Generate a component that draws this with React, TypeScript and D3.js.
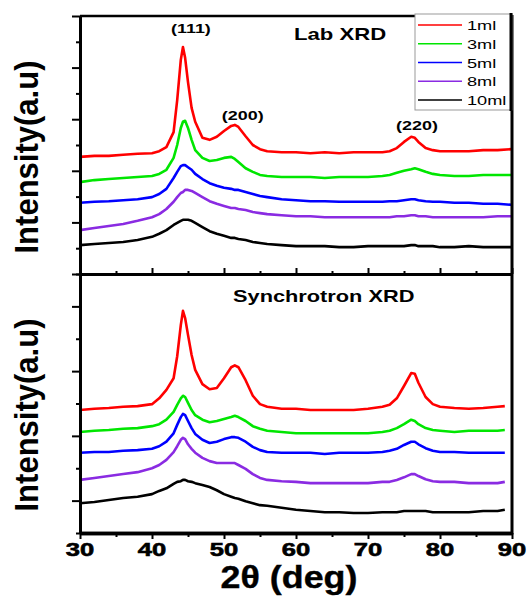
import React, { useEffect, useRef } from "react";
import * as d3 from "d3";

// 2theta sampling (deg)
const twoThetaLab = [30, 32, 34, 36, 38, 40, 41, 42, 43, 43.5, 44, 44.3, 44.6, 45, 45.5, 46, 47, 48, 49, 50, 51, 51.5, 52, 53, 54, 55, 56, 58, 60, 62, 64, 66, 68, 70, 72, 73, 74, 75, 76, 76.5, 77, 78, 79, 80, 82, 84, 86, 88, 90];
const twoThetaSyn = [30, 32, 34, 36, 38, 40, 41, 42, 43, 43.5, 44, 44.3, 44.6, 45, 45.5, 46, 47, 48, 49, 50, 51, 51.5, 52, 53, 54, 55, 56, 58, 60, 62, 64, 66, 68, 70, 72, 73, 74, 75, 76, 76.5, 77, 78, 79, 80, 82, 84, 86, 88, 89];

const samples = ["1ml", "3ml", "5ml", "8ml", "10ml"];
const sampleColors = ["#ff0000", "#00e600", "#0000ff", "#8a2be2", "#000000"];

// Lab XRD (offset intensities, a.u.)
const lab1ml = [2.27, 2.29, 2.29, 2.31, 2.33, 2.34, 2.38, 2.46, 2.75, 3.37, 4.15, 4.40, 4.19, 3.72, 3.22, 2.95, 2.64, 2.60, 2.66, 2.77, 2.87, 2.89, 2.85, 2.67, 2.50, 2.42, 2.38, 2.36, 2.36, 2.34, 2.36, 2.34, 2.36, 2.36, 2.36, 2.38, 2.44, 2.56, 2.66, 2.64, 2.56, 2.44, 2.40, 2.38, 2.38, 2.38, 2.40, 2.40, 2.42];
const lab3ml = [1.78, 1.82, 1.84, 1.86, 1.88, 1.90, 1.94, 2.02, 2.25, 2.50, 2.83, 2.95, 2.97, 2.83, 2.60, 2.40, 2.25, 2.19, 2.21, 2.25, 2.27, 2.23, 2.17, 2.05, 1.98, 1.92, 1.90, 1.88, 1.88, 1.88, 1.86, 1.88, 1.88, 1.88, 1.90, 1.92, 1.96, 2.00, 2.03, 2.05, 2.03, 1.98, 1.94, 1.92, 1.90, 1.90, 1.92, 1.92, 1.92];
const lab5ml = [1.38, 1.40, 1.41, 1.43, 1.45, 1.49, 1.55, 1.65, 1.86, 1.98, 2.09, 2.11, 2.11, 2.07, 2.02, 1.94, 1.84, 1.76, 1.71, 1.67, 1.65, 1.63, 1.63, 1.59, 1.55, 1.51, 1.49, 1.45, 1.43, 1.41, 1.41, 1.40, 1.40, 1.40, 1.40, 1.41, 1.41, 1.43, 1.45, 1.45, 1.43, 1.41, 1.40, 1.40, 1.38, 1.38, 1.36, 1.36, 1.34];
const lab8ml = [0.85, 0.89, 0.93, 0.97, 1.03, 1.10, 1.16, 1.26, 1.40, 1.49, 1.57, 1.59, 1.63, 1.63, 1.61, 1.57, 1.49, 1.41, 1.36, 1.32, 1.28, 1.28, 1.26, 1.24, 1.20, 1.18, 1.16, 1.14, 1.12, 1.12, 1.10, 1.10, 1.10, 1.10, 1.10, 1.10, 1.12, 1.12, 1.14, 1.14, 1.12, 1.12, 1.10, 1.10, 1.10, 1.10, 1.10, 1.12, 1.12];
const lab10ml = [0.56, 0.58, 0.60, 0.62, 0.66, 0.72, 0.78, 0.85, 0.95, 0.99, 1.03, 1.05, 1.05, 1.05, 1.03, 0.99, 0.91, 0.83, 0.78, 0.74, 0.70, 0.70, 0.68, 0.66, 0.62, 0.60, 0.58, 0.56, 0.54, 0.54, 0.54, 0.52, 0.52, 0.54, 0.54, 0.54, 0.54, 0.54, 0.56, 0.56, 0.54, 0.54, 0.54, 0.52, 0.52, 0.54, 0.52, 0.52, 0.52];

// Synchrotron XRD (offset intensities, a.u.)
const syn1ml = [1.90, 1.92, 1.93, 1.95, 1.96, 1.99, 2.08, 2.21, 2.39, 2.73, 3.21, 3.43, 3.32, 3.06, 2.75, 2.52, 2.30, 2.22, 2.24, 2.39, 2.56, 2.59, 2.56, 2.36, 2.12, 1.99, 1.95, 1.92, 1.92, 1.90, 1.90, 1.90, 1.90, 1.92, 1.95, 1.98, 2.08, 2.27, 2.47, 2.46, 2.32, 2.10, 1.99, 1.95, 1.93, 1.92, 1.93, 1.95, 1.96];
const syn3ml = [1.56, 1.58, 1.59, 1.61, 1.62, 1.65, 1.68, 1.75, 1.87, 1.98, 2.08, 2.12, 2.10, 2.01, 1.90, 1.82, 1.75, 1.71, 1.73, 1.76, 1.79, 1.81, 1.79, 1.73, 1.65, 1.61, 1.58, 1.56, 1.54, 1.54, 1.54, 1.54, 1.54, 1.54, 1.56, 1.58, 1.62, 1.68, 1.75, 1.73, 1.68, 1.62, 1.59, 1.58, 1.56, 1.58, 1.58, 1.58, 1.59];
const syn5ml = [1.24, 1.25, 1.25, 1.27, 1.28, 1.30, 1.34, 1.41, 1.54, 1.67, 1.79, 1.84, 1.82, 1.73, 1.62, 1.53, 1.44, 1.39, 1.41, 1.45, 1.48, 1.48, 1.47, 1.41, 1.33, 1.28, 1.25, 1.24, 1.24, 1.24, 1.22, 1.24, 1.24, 1.24, 1.25, 1.27, 1.30, 1.36, 1.41, 1.41, 1.37, 1.31, 1.27, 1.25, 1.25, 1.24, 1.24, 1.24, 1.24];
const syn8ml = [0.82, 0.85, 0.88, 0.91, 0.94, 1.00, 1.05, 1.13, 1.25, 1.34, 1.44, 1.47, 1.45, 1.37, 1.30, 1.24, 1.16, 1.11, 1.08, 1.08, 1.08, 1.08, 1.05, 0.99, 0.91, 0.85, 0.82, 0.80, 0.79, 0.77, 0.77, 0.77, 0.77, 0.77, 0.79, 0.79, 0.82, 0.86, 0.91, 0.91, 0.88, 0.83, 0.80, 0.79, 0.79, 0.77, 0.77, 0.77, 0.79];
const syn10ml = [0.46, 0.48, 0.51, 0.54, 0.56, 0.60, 0.65, 0.69, 0.76, 0.79, 0.80, 0.82, 0.82, 0.80, 0.79, 0.77, 0.74, 0.71, 0.66, 0.60, 0.56, 0.54, 0.53, 0.49, 0.46, 0.43, 0.42, 0.39, 0.36, 0.34, 0.32, 0.32, 0.31, 0.31, 0.32, 0.32, 0.32, 0.34, 0.34, 0.34, 0.34, 0.34, 0.32, 0.32, 0.32, 0.32, 0.34, 0.34, 0.36];

const labSeries = [lab1ml, lab3ml, lab5ml, lab8ml, lab10ml];
const synSeries = [syn1ml, syn3ml, syn5ml, syn8ml, syn10ml];

const xTicks = [30, 40, 50, 60, 70, 80, 90];
const xMinorTicks = [35, 45, 55, 65, 75, 85];
const labYTicks = [0, 1, 2, 3, 4, 5];
const labYMinor = [0.5, 1.5, 2.5, 3.5, 4.5];
const synYTicks = [0.5, 1.5, 2.5, 3.5];
const synYMinor = [0, 1, 2, 3, 4];

const hklLabels = ["(111)", "(200)", "(220)"];
const hklAngles = [45.4, 52.6, 76.8];
const hklHeights = [4.67, 2.98, 2.79];

const FONT = "'Liberation Sans', Arial, sans-serif";

const App = () => {
  const ref = useRef<SVGSVGElement>(null);

  useEffect(() => {
    const svg = d3.select(ref.current);
    svg.selectAll("*").remove();

    const left = 80, right = 512, top = 16, mid = 274, bottom = 533;

    const x = d3.scaleLinear().domain([30, 90]).range([left, right]);
    const yLab = d3.scaleLinear().domain([0, 5]).range([mid, top]);
    const ySyn = d3.scaleLinear().domain([0, 4]).range([bottom, mid]);

    // curves
    const drawPanel = (angles: number[], series: number[][], y: d3.ScaleLinear<number, number>) => {
      series.forEach((vals, i) => {
        const line = d3
          .line<number>()
          .x((_, j) => x(angles[j]))
          .y((d) => y(d));
        svg.append("path")
          .attr("d", line(vals))
          .attr("fill", "none")
          .attr("stroke", sampleColors[i])
          .attr("stroke-width", 2.6)
          .attr("stroke-linejoin", "round");
      });
    };
    drawPanel(twoThetaLab, labSeries, yLab);
    drawPanel(twoThetaSyn, synSeries, ySyn);

    // axes
    const styleAxis = (g: any, w: number) => {
      g.select(".domain").attr("stroke-width", w);
      g.selectAll(".tick line").attr("stroke-width", 2);
      g.selectAll("text").remove();
    };

    const addY = (y: any, major: number[], minor: number[]) => {
      svg.append("g").attr("transform", `translate(${left},0)`)
        .call(d3.axisLeft(y).tickValues(minor).tickSize(4).tickSizeOuter(0))
        .call((g: any) => styleAxis(g, 3));
      svg.append("g").attr("transform", `translate(${left},0)`)
        .call(d3.axisLeft(y).tickValues(major).tickSize(8).tickSizeOuter(0))
        .call((g: any) => styleAxis(g, 3));
    };
    addY(yLab, labYTicks, labYMinor);
    addY(ySyn, synYTicks, synYMinor);

    // shared middle axis (ticks point into the upper panel)
    svg.append("g").attr("transform", `translate(0,${mid})`)
      .call(d3.axisTop(x).tickValues(xMinorTicks).tickSize(3).tickSizeOuter(0))
      .call((g: any) => styleAxis(g, 3));
    svg.append("g").attr("transform", `translate(0,${mid})`)
      .call(d3.axisTop(x).tickValues(xTicks).tickSize(6).tickSizeOuter(0))
      .call((g: any) => styleAxis(g, 3));

    // bottom axis
    svg.append("g").attr("transform", `translate(0,${bottom})`)
      .call(d3.axisBottom(x).tickValues(xMinorTicks).tickSize(4).tickSizeOuter(0))
      .call((g: any) => styleAxis(g, 3.5));
    svg.append("g").attr("transform", `translate(0,${bottom})`)
      .call(d3.axisBottom(x).tickValues(xTicks).tickSize(6).tickSizeOuter(0))
      .call((g: any) => styleAxis(g, 3.5));

    // frame top and right
    svg.append("line").attr("x1", left).attr("x2", right).attr("y1", top).attr("y2", top)
      .attr("stroke", "#000").attr("stroke-width", 2.5);
    svg.append("line").attr("x1", right).attr("x2", right).attr("y1", top - 1).attr("y2", bottom + 1.5)
      .attr("stroke", "#000").attr("stroke-width", 3);

    const txt = (s: string, tx: number, ty: number, size: number, sx: number, weight = "bold", anchor = "middle", sw = 0) =>
      svg.append("text")
        .attr("transform", `translate(${tx},${ty}) scale(${sx},1)`)
        .attr("text-anchor", anchor)
        .attr("font-family", FONT)
        .attr("font-weight", weight)
        .attr("font-size", size)
        .attr("fill", "#000")
        .attr("stroke", sw ? "#000" : "none")
        .attr("stroke-width", sw)
        .text(s);

    // x tick labels
    xTicks.forEach((t) => txt(String(t), x(t), 556, 18.5, 1.38, "bold", "middle", 0.6));
    txt("2θ (deg)", 289, 588, 32, 1.12, "bold", "middle", 0.4);

    // y axis titles
    [157, 415].forEach((cy) => {
      svg.append("text")
        .attr("transform", `translate(38,${cy}) rotate(-90)`)
        .attr("text-anchor", "middle")
        .attr("font-family", FONT)
        .attr("font-weight", "bold")
        .attr("font-size", 33)
        .attr("textLength", 193)
        .attr("lengthAdjust", "spacingAndGlyphs")
        .text("Intensity(a.u)");
    });

    // panel titles
    txt("Lab XRD", 294, 40, 16.5, 1.34, "bold", "start");
    txt("Synchrotron XRD", 233, 302, 16.5, 1.32, "bold", "start");

    // hkl labels
    hklLabels.forEach((l, i) => txt(l, x(hklAngles[i]), yLab(hklHeights[i]), 13, 1.38));

    // legend
    const lg = svg.append("g");
    lg.append("rect").attr("x", 415).attr("y", 14).attr("width", 97).attr("height", 96)
      .attr("fill", "#fff").attr("stroke", "#999").attr("stroke-width", 1);
    lg.append("line").attr("x1", 511).attr("x2", 511).attr("y1", 13).attr("y2", 111)
      .attr("stroke", "#000").attr("stroke-width", 3);
    samples.forEach((s, i) => {
      const ly = 25 + i * 18.75;
      lg.append("line").attr("x1", 418).attr("x2", 462).attr("y1", ly).attr("y2", ly)
        .attr("stroke", sampleColors[i]).attr("stroke-width", 1.5);
      lg.append("text")
        .attr("transform", `translate(467,${ly + 5}) scale(1.4,1)`)
        .attr("font-family", FONT)
        .attr("font-size", 13)
        .text(s);
    });
  }, []);

  return (
    <svg
      ref={ref}
      width={531}
      height={596}
      style={{ position: "absolute", left: 0, top: 0, background: "#fff" }}
    />
  );
};

export default App;
